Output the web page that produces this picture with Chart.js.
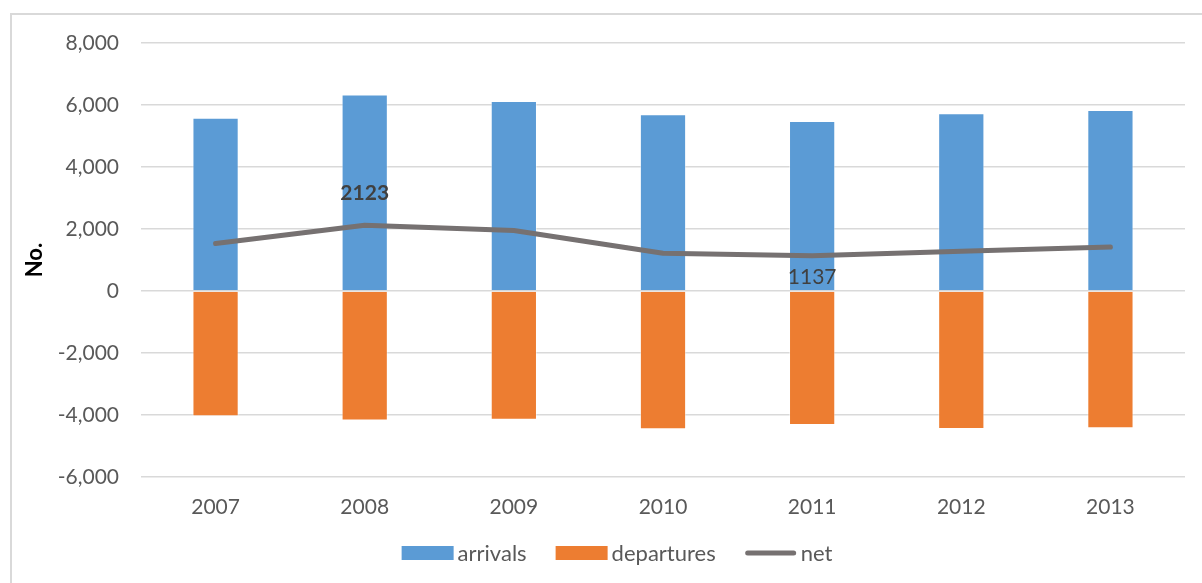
<!DOCTYPE html>
<html>
<head>
<meta charset="utf-8">
<script src="https://cdn.jsdelivr.net/npm/chart.js@4/dist/chart.umd.min.js"></script>
<style>
  html, body { margin: 0; padding: 0; background: #ffffff; }
  #wrap { position: relative; width: 1202px; height: 583px; overflow: hidden; }
  #frame { position: absolute; left: 10px; top: 13px; width: 1300px; height: 700px;
           border-left: 2px solid #d9d9d9; border-top: 2px solid #d9d9d9; box-sizing: border-box; }
  canvas { position: absolute; left: 0; top: 0; }
</style>
</head>
<body>
<div id="wrap">
  <div id="frame"></div>
  <canvas id="c" width="1202" height="583"></canvas>
</div>
<script>
// Migration flows by year
const years = ['2007', '2008', '2009', '2010', '2011', '2012', '2013'];
const arrivals = [5590, 6340, 6130, 5700, 5480, 5730, 5840];
const departures = [-4040, -4180, -4150, -4460, -4320, -4450, -4430];
const net = [1530, 2123, 1950, 1220, 1137, 1280, 1420];
// values on the net line that carry a printed label
const netLabels = [
  { index: 1, bold: true, dy: -32 },
  { index: 4, bold: false, dy: 21 }
];

const FONT = 'Lato, "Open Sans", sans-serif';
const TEXT = '#595959';

const netLabelPlugin = {
  id: 'netLabels',
  afterDatasetsDraw(chart) {
    const ctx = chart.ctx;
    const meta = chart.getDatasetMeta(2);
    ctx.save();
    ctx.textAlign = 'center';
    ctx.textBaseline = 'middle';
    netLabels.forEach(l => {
      const pt = meta.data[l.index];
      ctx.font = (l.bold ? 'bold ' : '') + '21px ' + FONT;
      ctx.fillStyle = '#404040';
      ctx.fillText(String(net[l.index]), pt.x, pt.y + l.dy);
    });
    ctx.restore();
  }
};

const legendPlugin = {
  id: 'flatLegend',
  afterDraw(chart, args, opts) {
    const ctx = chart.ctx;
    ctx.save();
    ctx.font = '22px ' + FONT;
    ctx.textBaseline = 'middle';
    const items = chart.data.datasets.map(ds => ({
      text: ds.label,
      color: ds.type === 'line' ? ds.borderColor : ds.backgroundColor,
      line: ds.type === 'line'
    }));
    const markW = 52, gap = 4, spacing = 29;
    let total = 0;
    items.forEach((it, i) => {
      it.w = markW + gap + ctx.measureText(it.text).width;
      total += it.w + (i ? spacing : 0);
    });
    let x = opts.centerX - total / 2;
    const y = opts.y;
    items.forEach(it => {
      if (it.line) {
        ctx.strokeStyle = it.color;
        ctx.lineWidth = 5;
        ctx.lineCap = 'round';
        ctx.beginPath();
        ctx.moveTo(x + 3, y);
        ctx.lineTo(x + markW - 3, y);
        ctx.stroke();
      } else {
        ctx.fillStyle = it.color;
        ctx.fillRect(x, y - 7, markW, 14);
      }
      ctx.fillStyle = TEXT;
      ctx.fillText(it.text, x + markW + gap, y + 1);
      x += it.w + spacing;
    });
    ctx.restore();
  }
};

new Chart(document.getElementById('c'), {
  data: {
    labels: years,
    datasets: [
      { type: 'bar', label: 'arrivals', data: arrivals, stack: 'flow',
        backgroundColor: '#5b9bd5', borderColor: 'rgba(255,255,255,0.45)', borderWidth: 1,
        categoryPercentage: 1, barPercentage: 0.31, order: 2 },
      { type: 'bar', label: 'departures', data: departures, stack: 'flow',
        backgroundColor: '#ed7d31', borderColor: 'rgba(255,255,255,0.45)', borderWidth: 1,
        categoryPercentage: 1, barPercentage: 0.31, order: 2 },
      { type: 'line', label: 'net', data: net, stack: 'net',
        borderColor: '#767171', backgroundColor: '#767171', borderWidth: 5,
        borderCapStyle: 'round', borderJoinStyle: 'round',
        pointRadius: 0, tension: 0, fill: false, order: 1 }
    ]
  },
  options: {
    responsive: false,
    animation: false,
    layout: { padding: { left: 0, top: 43, right: 17, bottom: 0 } },
    plugins: {
      legend: { display: false },
      tooltip: { enabled: false },
      flatLegend: { centerX: 617, y: 553 }
    },
    scales: {
      x: {
        stacked: true,
        grid: { display: false, drawTicks: false },
        border: { display: false },
        ticks: { color: TEXT, font: { family: FONT, size: 21 }, padding: 18 },
        afterFit(scale) { scale.height = 106; }
      },
      y: {
        stacked: true,
        min: -6000, max: 8000,
        grid: { color: '#d9d9d9', lineWidth: 1.5, drawTicks: false },
        border: { display: false },
        ticks: {
          stepSize: 2000, color: TEXT, padding: 22,
          font: { family: FONT, size: 21 },
          callback: v => v.toLocaleString('en-US')
        },
        title: {
          display: true, text: 'No.', color: '#000000',
          font: { family: FONT, size: 22, weight: 'bold' }, padding: { top: 22, bottom: 4 }
        },
        afterFit(scale) { scale.width = 141; }
      }
    }
  },
  plugins: [netLabelPlugin, legendPlugin]
});
</script>
</body>
</html>
